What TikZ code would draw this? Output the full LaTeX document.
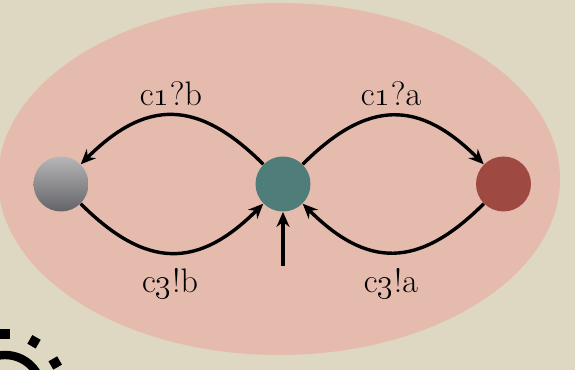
\documentclass[tikz,border=0pt]{standalone}
\usetikzlibrary{arrows.meta}
\definecolor{paper}{RGB}{222,215,194}
\definecolor{blush}{RGB}{229,187,174}
\definecolor{tealstate}{RGB}{78,125,122}
\definecolor{redstate}{RGB}{158,74,66}
\definecolor{greytop}{RGB}{182,182,185}
\definecolor{greybot}{RGB}{100,100,104}
\begin{document}
\begin{tikzpicture}[x=0.5pt,y=0.5pt,
  state/.style={circle,inner sep=0pt,minimum size=27.5pt},
  trans/.style={line width=1.7pt,-{Stealth[length=7.5pt,width=6.5pt]}},
  lbl/.style={font=\fontsize{17}{20}\selectfont,anchor=base,inner sep=0pt}]
\useasboundingbox (0,0) rectangle (575,370);
\begin{scope}
  \clip (0,0) rectangle (575,370);
  \fill[paper] (0,0) rectangle (575,370);
  \fill[blush] (279,191) ellipse [x radius=281, y radius=176];
  % corner of the sun icon
  \draw[line width=4.2pt] (5,-22) circle [radius=37];
  \foreach \a in {30,60,90}
    \draw[line width=4.8pt] (5,-22) ++(\a:53) -- ++(\a:10);
\end{scope}

% states
\node[state,fill=tealstate] (m) at (283,186) {};
\node[state,top color=greytop,bottom color=greybot] (l) at (61,186) {};
\node[state,fill=redstate] (r) at (503.5,186) {};
\coordinate (init) at (283,104);

% transitions
\draw[trans] (m) to[out=135,in=45,looseness=1.3] (l);
\draw[trans] (l) to[out=-45,in=-135,looseness=1.3] (m);
\draw[trans] (m) to[out=45,in=135,looseness=1.3] (r);
\draw[trans] (r) to[out=-135,in=-45,looseness=1.3] (m);
\draw[trans] (init) -- (m);

% labels
\node[lbl] (lb1) at (171,264) {c\oldstylenums{1}?b};
\node[lbl] (la1) at (391,264) {c\oldstylenums{1}?a};
\node[lbl] (lb3) at (170,77) {c\oldstylenums{3}!b};
\node[lbl] (la3) at (391,77) {c\oldstylenums{3}!a};
\end{tikzpicture}
\end{document}
